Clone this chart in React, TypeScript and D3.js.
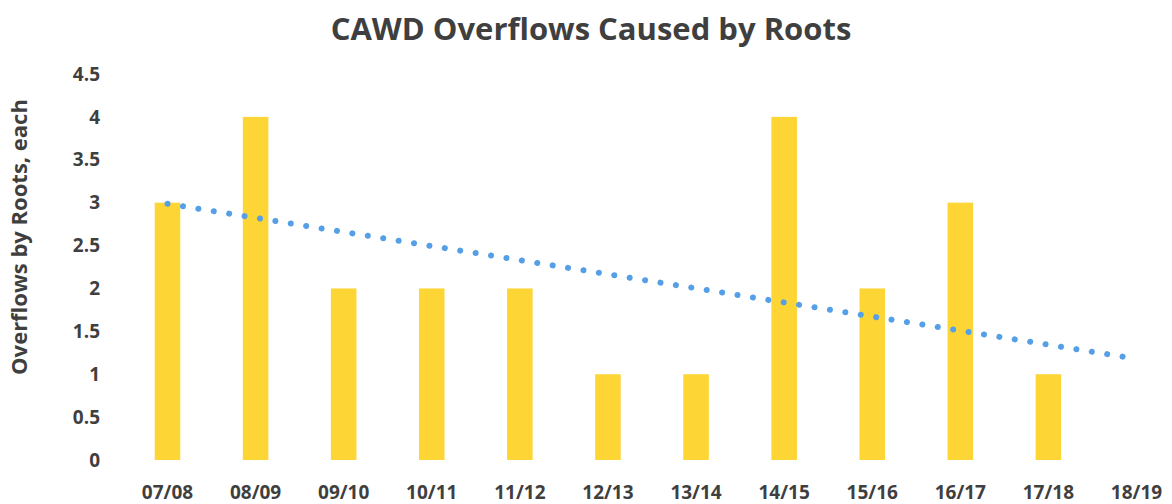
import React, { useEffect, useRef } from "react";
import * as d3 from "d3";

// data
const seasons = ["07/08", "08/09", "09/10", "10/11", "11/12", "12/13", "13/14", "14/15", "15/16", "16/17", "17/18", "18/19"];
const overflows = [3, 4, 2, 2, 2, 1, 1, 4, 2, 3, 1, 0];
const yTicks = [0, 0.5, 1, 1.5, 2, 2.5, 3, 3.5, 4, 4.5];

const W = 1172;
const H = 504;

const App: React.FC = () => {
  const svgRef = useRef<SVGSVGElement>(null);

  useEffect(() => {
    const svg = d3.select(svgRef.current);
    svg.selectAll("*").remove();

    const font = "'Open Sans', sans-serif";
    const textColor = "#3f3f3f";

    const x = d3.scaleBand<string>().domain(seasons).range([123, 1181]).paddingInner(0.71).paddingOuter(0.36);
    const y = d3.scaleLinear().domain([0, 4.5]).range([460, 74]);

    // titulo
    svg
      .append("text")
      .attr("x", 591)
      .attr("y", 40)
      .attr("text-anchor", "middle")
      .style("font-family", font)
      .style("font-weight", "700")
      .style("font-size", "31px")
      .style("fill", textColor)
      .text("CAWD Overflows Caused by Roots");

    // barras
    svg
      .append("g")
      .selectAll("rect")
      .data(seasons)
      .enter()
      .append("rect")
      .attr("x", (d) => x(d)!)
      .attr("y", (d, i) => y(overflows[i]))
      .attr("width", x.bandwidth())
      .attr("height", (d, i) => y(0) - y(overflows[i]))
      .attr("fill", "#fdd535");

    // linea de tendencia (regresion lineal)
    const n = overflows.length;
    const mx = d3.mean(overflows.map((_, i) => i))!;
    const my = d3.mean(overflows)!;
    const sxy = d3.sum(overflows, (v, i) => (i - mx) * (v - my));
    const sxx = d3.sum(overflows, (_, i) => (i - mx) * (i - mx));
    const slope = sxy / sxx;
    const icpt = my - slope * mx;
    const cx = (s: string) => x(s)! + x.bandwidth() / 2;
    const trend: [number, number][] = [
      [cx(seasons[0]), y(icpt)],
      [cx(seasons[n - 1]), y(icpt + slope * (n - 1))],
    ];
    svg
      .append("path")
      .attr("d", d3.line()(trend))
      .attr("fill", "none")
      .attr("stroke", "#559fe6")
      .attr("stroke-width", 6)
      .attr("stroke-linecap", "round")
      .attr("stroke-dasharray", "0.1 15.5");

    // eje y
    svg
      .append("g")
      .selectAll("text")
      .data(yTicks)
      .enter()
      .append("text")
      .attr("x", 100)
      .attr("y", (d) => y(d))
      .attr("dy", "0.35em")
      .attr("text-anchor", "end")
      .style("font-family", font)
      .style("font-weight", "700")
      .style("font-size", "19px")
      .style("fill", textColor)
      .text((d) => String(d));

    // eje x
    svg
      .append("g")
      .selectAll("text")
      .data(seasons)
      .enter()
      .append("text")
      .attr("x", (d) => cx(d))
      .attr("y", 499)
      .attr("text-anchor", "middle")
      .style("font-family", font)
      .style("font-weight", "700")
      .style("font-size", "19px")
      .style("fill", textColor)
      .text((d) => d);

    svg
      .append("text")
      .attr("transform", `translate(27,237) rotate(-90)`)
      .attr("text-anchor", "middle")
      .style("font-family", font)
      .style("font-weight", "700")
      .style("font-size", "22px")
      .style("fill", textColor)
      .text("Overflows by Roots, each");
  }, []);

  return (
    <svg
      ref={svgRef}
      width={W}
      height={H}
      style={{ position: "absolute", left: 0, top: 0, background: "#fff" }}
    ></svg>
  );
};

export default App;
